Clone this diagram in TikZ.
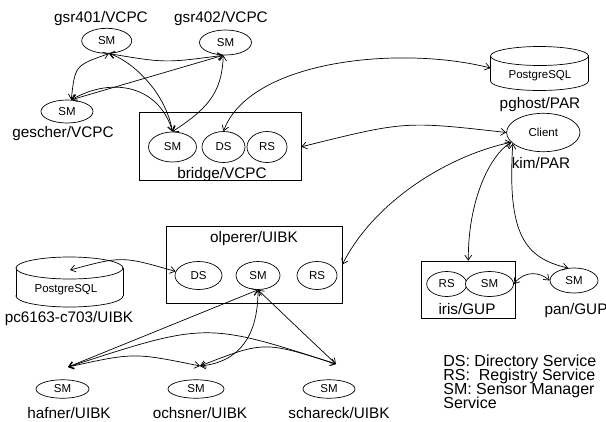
\documentclass[tikz,border=0pt]{standalone}
\usepackage{fontspec}
\setmainfont{Liberation Sans}
\usetikzlibrary{arrows.meta,shapes.geometric}
\begin{document}
\begin{tikzpicture}[x=1pt,y=-1pt,line width=0.7pt,
  >={Straight Barb[length=5pt,width=7pt]},
  ell/.style={draw, ellipse, inner sep=0pt, font=\fontsize{11.5}{13}\selectfont},
  lbl/.style={inner sep=0pt, anchor=base, font=\fontsize{15.3}{17}\selectfont},
  leg/.style={inner sep=0pt, anchor=base west, font=\fontsize{16}{17}\selectfont},
  dbtext/.style={inner sep=0pt, anchor=base, font=\fontsize{11.5}{13}\selectfont},
  hostbox/.style={draw, rectangle, inner sep=0pt},
  conn/.style={<->}]
\useasboundingbox (0,0) rectangle (606,421);

% ---- VCPC group ----
\node[ell, minimum width=50pt, minimum height=25pt] (g401) at (106.7,40.8) {SM};
\node[lbl] (l401) at (101,22.5) {gsr401/VCPC};
\node[ell, minimum width=52pt, minimum height=25pt] (g402) at (225.5,42.5) {SM};
\node[lbl] (l402) at (221,22.5) {gsr402/VCPC};
\node[ell, minimum width=52pt, minimum height=23pt] (gescher) at (67,111.5) {SM};
\node[lbl] (lgescher) at (63,137) {gescher/VCPC};

\node[hostbox, minimum width=162pt, minimum height=68pt] (bridge) at (220,146.8) {};
\node[ell, minimum width=48pt, minimum height=30pt] (bSM) at (172.5,147) {SM};
\node[ell, minimum width=43pt, minimum height=31pt] (bDS) at (223.5,147) {DS};
\node[ell, minimum width=40pt, minimum height=31pt] (bRS) at (267,147) {RS};
\node[lbl] (lbridge) at (222,178) {bridge/VCPC};

% ---- pghost database ----
\draw[fill=white] (539.5,81) ellipse [x radius=49pt, y radius=9.5pt];
\fill[white] (490.5,56) rectangle (588.5,81);
\draw (490.5,56) -- (490.5,81) (588.5,56) -- (588.5,81);
\draw[fill=white] (539.5,56) ellipse [x radius=49pt, y radius=9.5pt];
\node[dbtext] (pgdb) at (540,78) {PostgreSQL};
\coordinate (pgin) at (490.5,68);
\node[lbl] (lpghost) at (540,108) {pghost/PAR};

% ---- client ----
\node[ell, minimum width=73.4pt, minimum height=38.4pt] (Client) at (543.3,132.5) {Client};
\node[lbl] (lkim) at (541,168) {kim/PAR};

% ---- olperer ----
\node[hostbox, minimum width=176pt, minimum height=77pt] (olperer) at (254,264.5) {};
\node[lbl] (lolperer) at (254,242.5) {olperer/UIBK};
\node[ell, minimum width=47pt, minimum height=28pt] (oDS) at (198.5,275.5) {DS};
\node[ell, minimum width=44pt, minimum height=28pt] (oSM) at (258,275.5) {SM};
\node[ell, minimum width=40pt, minimum height=28pt] (oRS) at (317,275.5) {RS};

% ---- pc6163 database ----
\draw[fill=white] (69.5,296) ellipse [x radius=53.5pt, y radius=11pt];
\fill[white] (16,268) rectangle (123,296);
\draw (16,268) -- (16,296) (123,268) -- (123,296);
\draw[fill=white] (69.5,268) ellipse [x radius=53.5pt, y radius=11pt];
\node[dbtext] (pcdb) at (66,292) {PostgreSQL};
\coordinate (pcin) at (70,270);
\node[lbl] (lpc) at (69,322) {pc6163-c703/UIBK};

% ---- UIBK sensor managers ----
\node[ell, minimum width=53pt, minimum height=18.5pt] (hafner) at (62.5,389) {SM};
\node[lbl] (lhafner) at (69,418) {hafner/UIBK};
\node[ell, minimum width=56pt, minimum height=18.5pt] (ochsner) at (196,389) {SM};
\node[lbl] (lochsner) at (200,418) {ochsner/UIBK};
\node[ell, minimum width=52pt, minimum height=18.5pt] (schareck) at (329,389) {SM};
\node[lbl] (lschareck) at (339,418) {schareck/UIBK};
\coordinate (hafin) at (68,367);
\coordinate (ochin) at (200,366);
\coordinate (schin) at (336,364);

% ---- GUP ----
\node[hostbox, minimum width=93.3pt, minimum height=57pt] (iris) at (468.3,289.5) {};
\node[ell, minimum width=40pt, minimum height=25pt] (iRS) at (446.7,284) {RS};
\node[ell, minimum width=48pt, minimum height=25pt, fill=white] (iSM) at (489.5,284) {SM};
\node[lbl] (liris) at (467,314.5) {iris/GUP};
\node[ell, minimum width=48pt, minimum height=25pt] (pan) at (574,280.5) {SM};
\node[lbl] (lpan) at (576,314.5) {pan/GUP};

% ---- legend ----
\node[leg] (leg1) at (443,366) {DS: Directory Service};
\node[leg] (leg2) at (443,380) {RS:~ Registry Service};
\node[leg] (leg3) at (443,394) {SM: Sensor Manager};
\node[leg] (leg4) at (443,408) {Service};

% ---- connectors: VCPC mesh ----
\draw[conn] (g401.-80) .. controls (75,65.5) .. (gescher.70);
\draw[conn] (g401.-80) .. controls (165,63) .. (g402.-100);
\draw[conn] (g401.-80) .. controls (130,60) and (165,90) .. (bSM.north);
\draw[conn] (gescher.70) -- (g402.-100);
\draw[conn] (gescher.70) .. controls (115,75) and (160,88) .. (bSM.north);
\draw[conn] (g402.-100) .. controls (222,95) and (205,110) .. (bSM.north);

% ---- long connectors ----
\draw[conn] (bDS.north) .. controls (250,60) and (400,45) .. (pgin);
\draw[conn] (bridge.east) .. controls (405,121) .. (Client.west);
\draw[conn] (olperer.east) .. controls (375,200) and (450,155) .. (Client.197);
\draw[conn] (iris.north) .. controls (468,200) and (490,155) .. (Client.197);
\draw[conn] (Client.200) .. controls (507,235) and (525,258) .. (pan.115);
\draw[conn] (iSM.east) .. controls (525,270) and (540,272) .. (pan.west);
\draw[conn] (pcin) .. controls (122,256) .. (oDS.170);

% ---- UIBK mesh ----
\draw[conn] (oSM.south) -- (hafin);
\draw[conn] (oSM.south) .. controls (258,335) and (240,362) .. (ochin);
\draw[conn] (oSM.south) .. controls (301,331) .. (schin);
\draw[conn] (hafin) .. controls (206,322) .. (schin);
\draw[conn] (hafin) .. controls (134,352.5) .. (ochin);
\draw[conn] (ochin) .. controls (264,341) .. (schin);
\end{tikzpicture}
\end{document}
